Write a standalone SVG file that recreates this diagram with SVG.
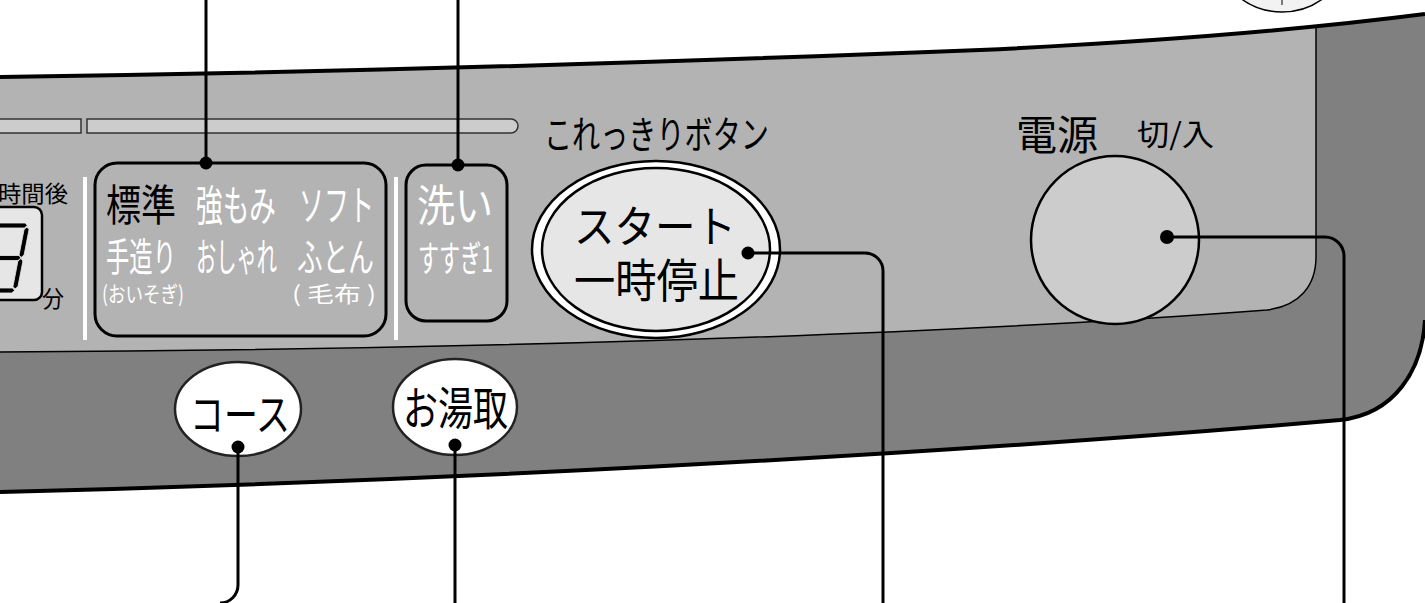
<svg xmlns="http://www.w3.org/2000/svg" width="1425" height="603" viewBox="0 0 1425 603">
<style>
.t{font-family:"Noto Sans CJK JP","Noto Sans CJK SC",sans-serif;}
.b{fill:#000}
.w{fill:#fff}
.edge{fill:none;stroke:#000;stroke-width:4}
.thin{fill:none;stroke:#000;stroke-width:1.5}
.box{fill:#b3b3b3;stroke:#000;stroke-width:3}
.bar{fill:#ccc;stroke:#333;stroke-width:1.5}
.sep{stroke:#fff;stroke-width:4}
.btn{fill:#fff;stroke:#222;stroke-width:2.5}
.con{fill:none;stroke:#000;stroke-width:3}
.dot{fill:#000}
</style>
<defs>
<clipPath id="panelClip">
<path d="M0,77 C300,73 600,65 980,50 C1150,42 1300,30 1425,14 V320 C1422,370 1395,414 1340,420 C900,458 400,482 0,492 Z"/>
</clipPath>
<clipPath id="dispClip">
<rect x="-10" y="207" width="52" height="93" rx="8"/>
</clipPath>
</defs>
<rect width="1425" height="603" fill="#fff"/>

<g id="topknob">
<circle cx="1282" cy="-57" r="69" fill="#f2f2f2" stroke="#000" stroke-width="1.5"/>
<line x1="1282" y1="0" x2="1282" y2="5" stroke="#000" stroke-width="1"/>
</g>

<g id="panel">
<path d="M0,77 C300,73 600,65 980,50 C1150,42 1300,30 1425,14 V320 C1422,370 1395,414 1340,420 C900,458 400,482 0,492 Z" fill="#808080"/>
<g clip-path="url(#panelClip)">
<path d="M-5,0 H1316 V257 C1316,285 1300,306 1267,310 C900,338 400,350 0,352 H-5 Z" fill="#b3b3b3"/>
<path d="M1316,0 V257 C1316,285 1300,306 1267,310 C900,338 400,350 0,352" class="thin"/>
</g>
<path d="M0,77 C300,73 600,65 980,50 C1150,42 1300,30 1425,14" class="edge"/>
<path d="M0,492 C400,482 900,458 1340,420 C1395,414 1422,370 1425,320" class="edge"/>
<rect x="-10" y="119" width="91" height="14" class="bar"/>
<path d="M87,119 H511 A7,7 0 0 1 511,133 H87 Z" class="bar"/>
<line x1="85" y1="177" x2="85" y2="340" class="sep"/>
<line x1="396" y1="177" x2="396" y2="340" class="sep"/>
</g>

<g id="display">
<text x="-2" y="201.5" class="t b" font-size="23" textLength="70" lengthAdjust="spacingAndGlyphs">時間後</text>
<rect x="-10" y="207" width="52" height="93" rx="8" fill="#e6e6e6" stroke="#000" stroke-width="2.5"/>
<g clip-path="url(#dispClip)">
<g transform="translate(0,258) skewX(-11)" fill="#000" stroke="#e6e6e6" stroke-width="0.8">
<polygon points="-13,-32.5 -10.5,-35 18.5,-35 21,-32.5 18.5,-30 -10.5,-30"/>
<polygon points="21,-31 23.5,-28.5 23.5,-3 21,-0.5 18.5,-3 18.5,-28.5"/>
<polygon points="-13,0 -10.5,-2.5 18.5,-2.5 21,0 18.5,2.5 -10.5,2.5"/>
<polygon points="21,0.5 23.5,3 23.5,28.5 21,31 18.5,28.5 18.5,3"/>
<polygon points="-13,32.5 -10.5,30 18.5,30 21,32.5 18.5,35 -10.5,35"/>
<polygon points="-13,-31 -10.5,-28.5 -10.5,-3 -13,-0.5 -15.5,-3 -15.5,-28.5"/>
<polygon points="-13,0.5 -10.5,3 -10.5,28.5 -13,31 -15.5,28.5 -15.5,3"/>
</g>
</g>
<text x="42" y="306.5" class="t b" font-size="23" textLength="22" lengthAdjust="spacingAndGlyphs">分</text>
</g>

<g id="course-panel">
<rect x="95" y="163" width="291" height="173" rx="22" class="box"/>
<text x="106" y="221" class="t b" font-size="43" textLength="70" lengthAdjust="spacingAndGlyphs">標準</text>
<text x="196" y="221" class="t w" font-size="42" textLength="80" lengthAdjust="spacingAndGlyphs">強もみ</text>
<text x="299" y="221" class="t w" font-size="42" textLength="75" lengthAdjust="spacingAndGlyphs">ソフト</text>
<text x="106" y="270.5" class="t w" font-size="39" textLength="70" lengthAdjust="spacingAndGlyphs">手造り</text>
<text x="196" y="270.5" class="t w" font-size="39" textLength="81" lengthAdjust="spacingAndGlyphs">おしゃれ</text>
<text x="297" y="270.5" class="t w" font-size="39" textLength="77" lengthAdjust="spacingAndGlyphs">ふとん</text>
<text x="102" y="301.5" class="t w" font-size="22" textLength="82" lengthAdjust="spacingAndGlyphs">(おいそぎ)</text>
<text x="292" y="301.5" class="t w" font-size="22" textLength="84" lengthAdjust="spacingAndGlyphs">( 毛布 )</text>
</g>

<g id="wash-panel">
<rect x="406" y="165" width="101" height="156" rx="20" class="box"/>
<text x="417" y="222" class="t w" font-size="44" textLength="76" lengthAdjust="spacingAndGlyphs">洗い</text>
<text x="418" y="272" class="t w" font-size="36" textLength="75" lengthAdjust="spacingAndGlyphs">すすぎ1</text>
</g>

<g id="korekkiri-label">
<text x="544" y="148" class="t b" font-size="38" textLength="225" lengthAdjust="spacingAndGlyphs">これっきりボタン</text>
</g>

<g id="start-button">
<ellipse cx="656" cy="249.5" rx="124" ry="88.5" fill="#fff" stroke="#000" stroke-width="2.5"/>
<ellipse cx="656" cy="249.5" rx="114" ry="81.5" fill="#e6e6e6" stroke="#000" stroke-width="2.5"/>
<text x="574" y="243" class="t b" font-size="44" textLength="162" lengthAdjust="spacingAndGlyphs">スタート</text>
<text x="574" y="297" class="t b" font-size="46" textLength="165" lengthAdjust="spacingAndGlyphs">一時停止</text>
</g>

<g id="power-button">
<text x="1016" y="150" class="t b" font-size="41" textLength="82" lengthAdjust="spacingAndGlyphs">電源</text>
<text x="1137" y="145" class="t b" font-size="30" textLength="77" lengthAdjust="spacingAndGlyphs">切/入</text>
<circle cx="1115" cy="240" r="84" fill="#ccc" stroke="#000" stroke-width="2.5"/>
</g>

<g id="course-button">
<ellipse cx="238" cy="409" rx="63" ry="47" class="btn"/>
<text x="190" y="431" class="t b" font-size="44" textLength="100" lengthAdjust="spacingAndGlyphs">コース</text>
</g>

<g id="oyutori-button">
<ellipse cx="455" cy="407" rx="62" ry="48" class="btn"/>
<text x="403" y="425" class="t b" font-size="46" textLength="105" lengthAdjust="spacingAndGlyphs">お湯取</text>
</g>

<g id="connectors">
<path d="M206,0 V163" class="con"/>
<circle cx="206" cy="163" r="6.5" class="dot"/>
<path d="M458,0 V165" class="con"/>
<circle cx="458" cy="165" r="6.5" class="dot"/>
<path d="M748,253 H865 A18,18 0 0 1 883,271 V603" class="con"/>
<circle cx="748" cy="253" r="6.5" class="dot"/>
<path d="M1167,237 H1325 A19,19 0 0 1 1344,256 V603" class="con"/>
<circle cx="1167" cy="237" r="7" class="dot"/>
<path d="M238,447 V585 A18,18 0 0 1 220,603" class="con"/>
<circle cx="238" cy="447" r="6.5" class="dot"/>
<path d="M455,445 V603" class="con"/>
<circle cx="455" cy="445" r="6.5" class="dot"/>
</g>
</svg>
